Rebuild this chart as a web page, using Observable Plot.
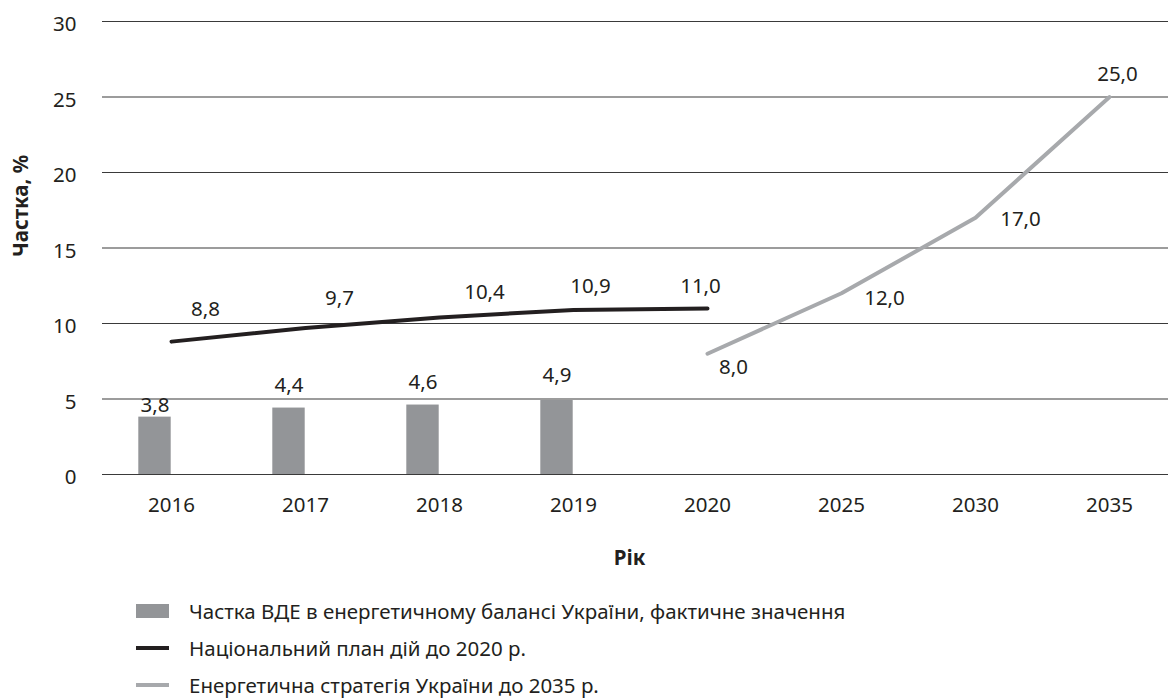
<!DOCTYPE html>
<html>
<head>
<meta charset="utf-8">
<script src="https://cdn.jsdelivr.net/npm/d3@7"></script>
<script src="https://cdn.jsdelivr.net/npm/@observablehq/plot@0.6"></script>
<style>
  html, body { margin: 0; padding: 0; background: #fff; }
  body { width: 1168px; height: 699px; overflow: hidden; font-family: "Noto Sans", sans-serif; color: #231f20; }
  #chart svg { display: block; }
  .legend { margin-top: 12px; }
  .row { display: flex; align-items: center; height: 37px; font-size: 20.5px; }
  .sw { width: 33px; margin-left: 136px; margin-right: 20px; }
</style>
</head>
<body>
<div id="chart"></div>
<div class="legend" id="legend"></div>
<script>
// ---- data ----
const years = ["2016", "2017", "2018", "2019", "2020", "2025", "2030", "2035"];
const actualYears = ["2016", "2017", "2018", "2019"];
const actualValues = [3.8, 4.4, 4.6, 4.9];
const planYears = ["2016", "2017", "2018", "2019", "2020"];
const planValues = [8.8, 9.7, 10.4, 10.9, 11.0];
const strategyYears = ["2020", "2025", "2030", "2035"];
const strategyValues = [8.0, 12.0, 17.0, 25.0];
const yTicks = [0, 5, 10, 15, 20, 25, 30];
const seriesNames = [
  "Частка ВДЕ в енергетичному балансі України, фактичне значення",
  "Національний план дій до 2020 р.",
  "Енергетична стратегія України до 2035 р."
];
const yTitle = "Частка, %";
const xTitle = "Рік";

const actual = actualYears.map((y, i) => ({year: y, value: actualValues[i]}));
const plan = planYears.map((y, i) => ({year: y, value: planValues[i]}));
const strategy = strategyYears.map((y, i) => ({year: y, value: strategyValues[i]}));

const fmt = v => v.toFixed(1).replace(".", ",");
const ink = "#231f20";
const barColor = "#939598";
const planColor = "#231f20";
const stratColor = "#a7a9ac";

function label(data, i, dx, dy) {
  return Plot.text([data[i]], {x: "year", y: "value", text: d => fmt(d.value), dx, dy,
    fill: ink, fontSize: 20.5, lineAnchor: "middle"});
}

const chart = Plot.plot({
  width: 1168,
  height: 580,
  marginLeft: 102,
  marginRight: 0,
  marginTop: 21,
  marginBottom: 106,
  style: {fontFamily: "Noto Sans", fontSize: "20.5px", color: ink, background: "#fff"},
  x: {type: "band", domain: years, range: [101.7, 1178.6], padding: 0},
  y: {domain: [0, 30]},
  marks: [
    Plot.ruleY(yTicks, {stroke: "#3a3a3a", strokeWidth: 1.1}),
    Plot.barY(actual, {x: "year", y: "value", fill: barColor, insetLeft: 34.3, insetRight: 67.3}),
    Plot.line(plan, {x: "year", y: "value", stroke: planColor, strokeWidth: 4}),
    Plot.line(strategy, {x: "year", y: "value", stroke: stratColor, strokeWidth: 4}),
    // bar labels
    label(actual, 0, -16.5, -12),
    label(actual, 1, -16.5, -23),
    label(actual, 2, -16.5, -23),
    label(actual, 3, -16.5, -25),
    // plan labels
    label(plan, 0, 34, -32),
    label(plan, 1, 34, -30),
    label(plan, 2, 45, -25),
    label(plan, 3, 17, -23),
    label(plan, 4, -7, -22),
    // strategy labels
    label(strategy, 0, 26, 14),
    label(strategy, 1, 43, 5),
    label(strategy, 2, 45, 2),
    label(strategy, 3, 8, -23),
    Plot.axisY({ticks: yTicks, tickSize: 0, tickPadding: 26, tickFormat: d => String(d), label: null, dy: 3, fill: ink}),
    Plot.axisX({tickSize: 0, tickPadding: 23, label: null, fill: ink}),
    Plot.text([yTitle], {frameAnchor: "left", dx: -81, dy: 9, rotate: -90, text: d => d,
      fontWeight: "bold", fontSize: 20.5, fill: ink, lineAnchor: "middle"}),
    Plot.text([xTitle], {frameAnchor: "bottom", dx: -6, dy: 84, text: d => d,
      fontWeight: "bold", fontSize: 20.5, fill: ink, lineAnchor: "middle"})
  ]
});
document.getElementById("chart").appendChild(chart);

// ---- legend ----
const legend = document.getElementById("legend");
const swatches = [
  `<div class="sw" style="height:14px;background:${barColor}"></div>`,
  `<div class="sw" style="height:4px;background:${planColor}"></div>`,
  `<div class="sw" style="height:4px;background:${stratColor}"></div>`
];
seriesNames.forEach((name, i) => {
  const row = document.createElement("div");
  row.className = "row";
  row.innerHTML = swatches[i] + `<span>${name}</span>`;
  legend.appendChild(row);
});
</script>
</body>
</html>
